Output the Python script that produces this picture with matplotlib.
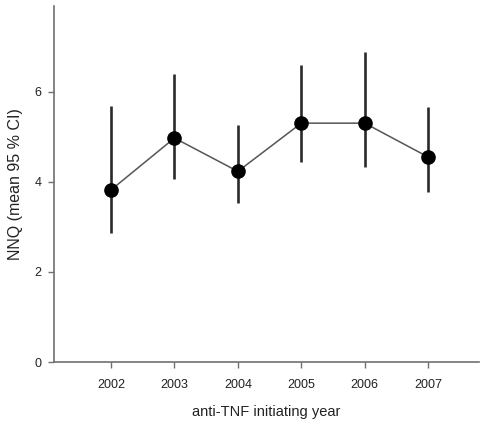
import matplotlib
matplotlib.use("Agg")
import matplotlib.pyplot as plt

# NNQ per anti-TNF initiating year, mean and 95 % CI
years = [2002, 2003, 2004, 2005, 2006, 2007]
nnq_mean = [3.82, 4.97, 4.23, 5.30, 5.30, 4.55]
ci_low = [2.87, 4.06, 3.52, 4.43, 4.32, 3.78]
ci_high = [5.67, 6.38, 5.27, 6.58, 6.87, 5.65]

plt.rcParams['font.family'] = ['Liberation Sans', 'DejaVu Sans']

fig = plt.figure(figsize=(4.8, 4.24), dpi=100)
ax = fig.add_axes([0.1125, 0.146, 0.885, 0.84])

err_lo = [m - l for m, l in zip(nnq_mean, ci_low)]
err_hi = [h - m for m, h in zip(nnq_mean, ci_high)]

ax.errorbar(years, nnq_mean, yerr=[err_lo, err_hi], fmt='none',
            ecolor='#2a2a2a', elinewidth=1.9, capsize=0, zorder=2)
ax.plot(years, nnq_mean, color='#555555', linewidth=1.1, zorder=3)
ax.plot(years, nnq_mean, 'o', color='black', markersize=9.5, zorder=4)

ax.set_xlim(2001.1, 2007.8)
ax.set_ylim(0, 7.9)
ax.set_xticks(years)
ax.set_yticks([0, 2, 4, 6])

for side in ['top', 'right']:
    ax.spines[side].set_visible(False)
for side in ['left', 'bottom']:
    ax.spines[side].set_color('#707070')
    ax.spines[side].set_linewidth(1.2)

ax.tick_params(direction='out', length=4, width=1, color='#707070',
               labelsize=9, labelcolor='#222222')
ax.tick_params(axis='x', pad=8)
ax.tick_params(axis='y', pad=5)

ax.set_xlabel('anti-TNF initiating year', fontsize=10.5, color='#222222', labelpad=10)
ax.set_ylabel('NNQ (mean 95 % CI)', fontsize=11.5, color='#222222', labelpad=8)

plt.savefig('out.png', dpi=100)
